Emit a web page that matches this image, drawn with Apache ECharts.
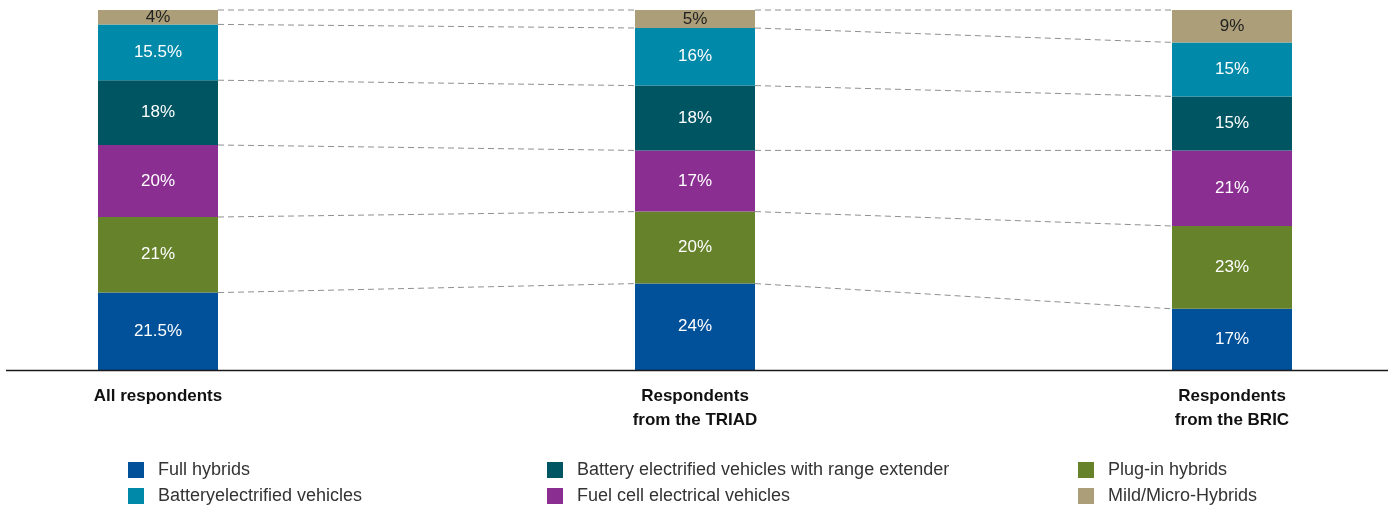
<!DOCTYPE html>
<html>
<head>
<meta charset="utf-8">
<script src="https://cdn.jsdelivr.net/npm/echarts@6/dist/echarts.min.js"></script>
<style>
html,body{margin:0;padding:0;background:#fff;}
#chart{width:1392px;height:508px;}
</style>
</head>
<body>
<div id="chart"></div>
<script>
const categories = ['All respondents', 'Respondents\nfrom the TRIAD', 'Respondents\nfrom the BRIC'];
// stacked from bottom to top
const fullHybrids   = [21.5, 24, 17];
const plugInHybrids = [21, 20, 23];
const fuelCell      = [20, 17, 21];
const bevRangeExt   = [18, 18, 15];
const bev           = [15.5, 16, 15];
const mildMicro     = [4, 5, 9];

const seriesDefs = [
  {name: 'Full hybrids', data: fullHybrids, color: '#00509A', label: '#ffffff'},
  {name: 'Plug-in hybrids', data: plugInHybrids, color: '#66822A', label: '#ffffff'},
  {name: 'Fuel cell electrical vehicles', data: fuelCell, color: '#8A2E91', label: '#ffffff'},
  {name: 'Battery electrified vehicles with range extender', data: bevRangeExt, color: '#005563', label: '#ffffff'},
  {name: 'Batteryelectrified vehicles', data: bev, color: '#0089A8', label: '#ffffff'},
  {name: 'Mild/Micro-Hybrids', data: mildMicro, color: '#AC9E78', label: '#222222'}
];

const BAR_W = 120;

// cumulative levels for the dashed connectors
const connectors = [];
for (let i = 0; i < categories.length - 1; i++) {
  let cumA = 0, cumB = 0;
  seriesDefs.forEach(s => {
    cumA += s.data[i];
    cumB += s.data[i + 1];
    connectors.push([i, cumA, cumB]);
  });
}

const chart = echarts.init(document.getElementById('chart'));

const legendLayout = [
  {name: 'Full hybrids', left: 128, top: 461},
  {name: 'Batteryelectrified vehicles', left: 128, top: 487},
  {name: 'Battery electrified vehicles with range extender', left: 547, top: 461},
  {name: 'Fuel cell electrical vehicles', left: 547, top: 487},
  {name: 'Plug-in hybrids', left: 1078, top: 461},
  {name: 'Mild/Micro-Hybrids', left: 1078, top: 487}
];

const series = seriesDefs.map(s => ({
  name: s.name,
  type: 'bar',
  stack: 'total',
  barWidth: BAR_W,
  z: 3,
  data: s.data,
  itemStyle: {color: s.color},
  label: {
    show: true,
    position: 'inside',
    color: s.label,
    fontSize: 17,
    fontFamily: 'Liberation Sans',
    formatter: p => p.value + '%'
  },
  emphasis: {disabled: true}
}));

series.push({
  type: 'custom',
  name: 'connectors',
  z: 1,
  silent: true,
  encode: {x: 0, y: 1},
  data: connectors,
  renderItem: function (params, api) {
    const i = api.value(0);
    const p1 = api.coord([i, api.value(1)]);
    const p2 = api.coord([i + 1, api.value(2)]);
    return {
      type: 'line',
      shape: {x1: p1[0] + BAR_W / 2, y1: p1[1], x2: p2[0] - BAR_W / 2, y2: p2[1]},
      style: {stroke: '#8f8f8f', lineWidth: 1, lineDash: [6, 4]}
    };
  }
});

const option = {
  animation: false,
  grid: {left: 158, right: 160, top: 10, bottom: 138},
  xAxis: {
    type: 'category',
    data: categories,
    boundaryGap: false,
    axisLine: {show: false},
    axisTick: {show: false},
    axisLabel: {
      margin: 14,
      fontSize: 17,
      lineHeight: 24,
      fontWeight: 'bold',
      color: '#111',
      fontFamily: 'Liberation Sans',
      align: 'center'
    }
  },
  yAxis: {type: 'value', min: 0, max: 100, show: false},
  legend: legendLayout.map(l => ({
    data: [l.name],
    left: l.left,
    top: l.top,
    padding: 0,
    itemWidth: 16,
    itemHeight: 16,
    icon: 'rect',
    selectedMode: false,
    textStyle: {fontSize: 18, color: '#333', fontFamily: 'Liberation Sans', padding: [0, 0, 0, 9]}
  })),
  series: series
};
chart.setOption(option);

const yBase = chart.convertToPixel({yAxisIndex: 0}, 0);
chart.setOption({
  graphic: [{
    type: 'line',
    silent: true,
    z: 10,
    shape: {x1: 6, y1: Math.round(yBase) + 0.5, x2: 1388, y2: Math.round(yBase) + 0.5},
    style: {stroke: '#1a1a1a', lineWidth: 1.5}
  }]
});
</script>
</body>
</html>
